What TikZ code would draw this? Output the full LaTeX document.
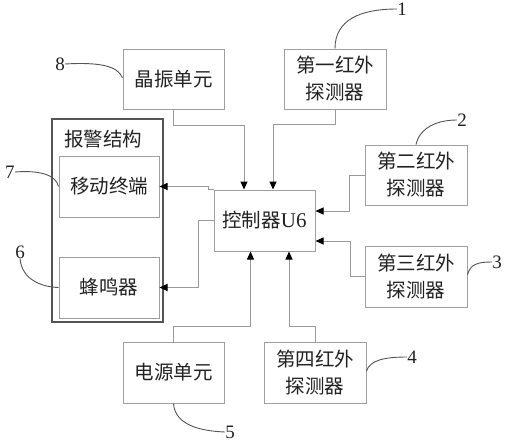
\documentclass[tikz,border=0pt]{standalone}
\usepackage{fontspec}
\setmainfont{Liberation Serif}
\newfontfamily\cjk{Noto Sans CJK SC}
\usetikzlibrary{arrows.meta}
\definecolor{boxgray}{HTML}{A0A0A0}
\definecolor{linegray}{HTML}{9A9A9A}
\definecolor{outergray}{HTML}{555555}
\definecolor{txt}{HTML}{222222}
\begin{document}
\begin{tikzpicture}[x=1pt,y=-1pt,
  box/.style={draw=boxgray, line width=1pt, inner sep=0pt, text=txt, align=center,
     font=\cjk\fontsize{19.5}{27}\selectfont},
  conn/.style={draw=linegray, line width=1pt, -{Triangle[length=8pt,width=7pt,color=black]}},
  leader/.style={draw=outergray, line width=0.9pt},
  num/.style={text=txt, font=\fontsize{19}{19}\selectfont, inner sep=0pt}]
\useasboundingbox (0,0) rectangle (532,447);
\fill[white] (0,0) rectangle (532,447);

% boxes
\node[box, minimum width=101pt, minimum height=60pt] (xz) at (173.5,79) {晶振单元};
\node[box, minimum width=102pt, minimum height=60pt] (d1) at (335,79) {第一红外\\探测器};
\node[box, minimum width=102pt, minimum height=60pt] (d2) at (416,175) {第二红外\\探测器};
\node[box, minimum width=102pt, minimum height=61pt] (d3) at (416,276.5) {第三红外\\探测器};
\node[box, minimum width=102pt, minimum height=61pt] (d4) at (315,372.5) {第四红外\\探测器};
\node[box, minimum width=101pt, minimum height=61pt] (dy) at (173.5,372.5) {电源单元};
\node[box, minimum width=101pt, minimum height=61pt] (ctrl) at (264.5,220.5) {控制器{\rmfamily\fontsize{21}{21}\selectfont U6}};
\node[draw=outergray, line width=1.3pt, minimum width=111pt, minimum height=203pt, inner sep=0pt] (alarm) at (107.5,220.5) {};
\node[text=txt, font=\cjk\fontsize{19.5}{19.5}\selectfont, inner sep=0pt] (title) at (103,139) {报警结构};
\node[box, minimum width=100pt, minimum height=61pt] (yd) at (109,186.5) {移动终端};
\node[box, minimum width=100pt, minimum height=61pt] (fm) at (109,287.5) {蜂鸣器};

% connectors
\draw[conn] (xz.south) -- ++(0,16) -| ([xshift=-20.5pt]ctrl.north);
\draw[conn] (d1.south) -- ++(0,15) -| ([xshift=8.5pt]ctrl.north);
\draw[conn] (d2.west) -- ++(-15,0) |- ([yshift=9.5pt]ctrl.east);
\draw[conn] (d3.west) -- ++(-14,0) |- ([yshift=-20.5pt]ctrl.east);
\draw[conn] (d4.north) -- ++(0,-15) -| ([xshift=24.5pt]ctrl.south);
\draw[conn] (dy.north) -- ++(0,-15) -| ([xshift=-14pt]ctrl.south);
\draw[conn] (ctrl.north west) -- ++(-5,0) |- (yd.east);
\draw[conn] (ctrl.west) -- ++(-15,0) |- (fm.east);

% labels and leaders
\node[num] (l1) at (402,9) {1};
\node[num] (l2) at (462,120) {2};
\node[num] (l3) at (497,262) {3};
\node[num] (l4) at (412,357) {4};
\node[num] (l5) at (230,432) {5};
\node[num] (l6) at (20,252) {6};
\node[num] (l7) at (10,172) {7};
\node[num] (l8) at (60,64) {8};

\draw[leader] (d1.north) .. controls (335,20) and (360,9) .. (l1.west);
\draw[leader] (d2.north) .. controls (420,127) and (438,120) .. (l2.west);
\draw[leader] ([yshift=1.5pt]d3.east) .. controls (470,264) and (478,262) .. (l3.west);
\draw[leader] ([yshift=1.5pt]d4.east) .. controls (370,360) and (385,357) .. (l4.west);
\draw[leader] (dy.south) .. controls (175,425) and (200,431) .. (l5.west);
\draw[leader] (l6.south) .. controls (22,280) and (42,287) .. (fm.west);
\draw[leader] (l7.east) .. controls (40,170) and (56,175) .. (yd.west);
\draw[leader] (l8.east) .. controls (100,62) and (118,66) .. ([yshift=1pt]xz.west);
\end{tikzpicture}
\end{document}
